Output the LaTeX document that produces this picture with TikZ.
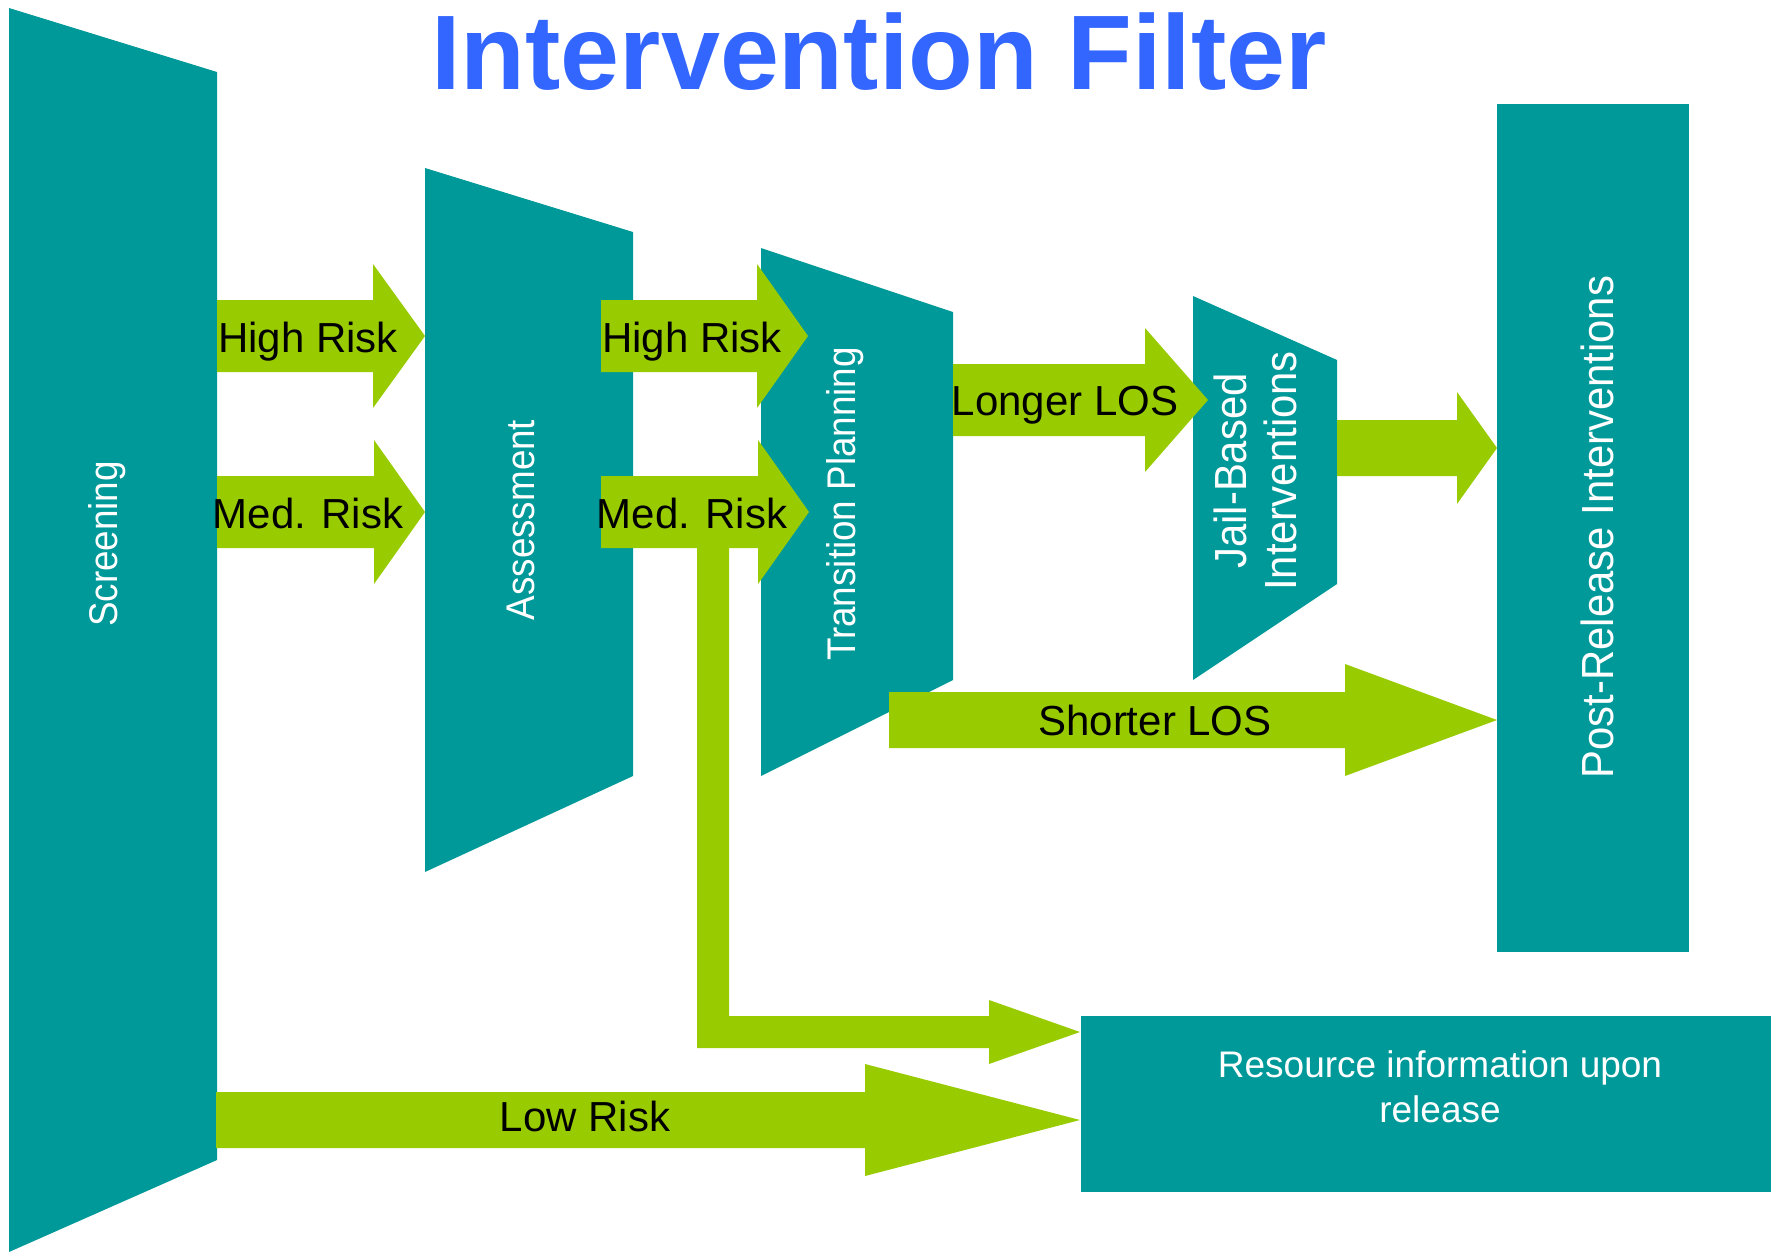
\documentclass[tikz,border=0pt]{standalone}
\usepackage{graphicx}
\usepackage{fontspec}
\setmainfont{Liberation Sans}
\definecolor{tealbox}{RGB}{0,153,153}
\definecolor{arrowgreen}{RGB}{153,204,0}
\definecolor{titleblue}{RGB}{51,102,255}
% block arrow: x0, xh (head start), x1 (tip), yc, half body, half head
\newcommand\blockarrow[6]{%
  \fill[flow] (#1,#4-#5) -- (#2,#4-#5) -- (#2,#4-#6) -- (#3,#4) -- (#2,#4+#6) -- (#2,#4+#5) -- (#1,#4+#5) -- cycle;}
\newcommand\narrowtext[2]{\scalebox{#1}[1]{#2}}
\begin{document}
\begin{tikzpicture}[x=0.5pt,y=-0.5pt,
  stage/.style={fill=tealbox},
  flow/.style={fill=arrowgreen},
  blab/.style={text=black,font=\fontsize{21}{25}\selectfont,inner sep=0pt,anchor=base},
  wlab/.style={text=white,font=\fontsize{20}{24}\selectfont,inner sep=0pt,rotate=90,anchor=center},
  wlabbig/.style={text=white,font=\fontsize{22.5}{25}\selectfont,inner sep=0pt,rotate=90,anchor=center,align=center}]
\useasboundingbox (0,0) rectangle (1771,1253);
\fill[white] (0,0) rectangle (1771,1253);
% stages
\fill[stage] (9,8) -- (217,72) -- (217,1160) -- (9,1252) -- cycle;
\fill[stage] (425,168) -- (633,232) -- (633,776) -- (425,872) -- cycle;
\fill[stage] (761,248) -- (953,312) -- (953,680) -- (761,776) -- cycle;
\fill[stage] (1193,296) -- (1337,360) -- (1337,584) -- (1193,680) -- cycle;
\fill[stage] (1497,104) rectangle (1689,952);
\fill[stage] (1081,1016) rectangle (1771,1192);
% arrows
\blockarrow{217}{373}{425}{336}{36}{72}
\blockarrow{217}{374}{425}{512}{36}{72}
\blockarrow{601}{757}{808}{336}{36}{72}
\blockarrow{601}{758}{809}{512}{36}{72}
\blockarrow{953}{1145}{1208}{400}{36}{72}
\blockarrow{1337}{1457}{1497}{448}{28}{56}
\blockarrow{889}{1345}{1497}{720}{28}{56}
\blockarrow{216}{865}{1080}{1120}{28}{56}
\fill[flow] (697,540) -- (729,540) -- (729,1016) -- (989,1016) -- (989,1000) -- (1080,1032) -- (989,1064) -- (989,1048) -- (697,1048) -- cycle;
% title
\node[text=titleblue,font=\fontsize{53}{60}\selectfont\bfseries,inner sep=0pt,anchor=base] (title) at (879,89) {Intervention Filter};
% stage labels
\node[wlab] (screening) at (107,544) {\narrowtext{0.92}{Screening}};
\node[wlab] (assessment) at (521,520) {\narrowtext{0.92}{Assessment}};
\node[wlab] (transition) at (845,504) {\narrowtext{0.92}{Transition Planning}};
\node[wlabbig] (jail) at (1255,471) {\narrowtext{0.93}{Jail-Based}\\\narrowtext{0.93}{Interventions}};
\node[wlabbig] (post) at (1597,527) {\narrowtext{0.93}{Post-Release Interventions}};
\node[text=white,font=\fontsize{18.5}{22.5}\selectfont,inner sep=0pt,align=center] (resource) at (1440,1087) {Resource information upon\\release};
% arrow labels
\node[blab] (hr1) at (308,352) {High Risk};
\node[blab] (mr1) at (308,528) {Med. Risk};
\node[blab] (hr2) at (692,352) {High Risk};
\node[blab] (mr2) at (692,528) {Med. Risk};
\node[blab] (longer) at (1065,415) {Longer LOS};
\node[blab] (shorter) at (1155,735) {Shorter LOS};
\node[blab] (low) at (585,1131) {Low Risk};
\end{tikzpicture}
\end{document}
